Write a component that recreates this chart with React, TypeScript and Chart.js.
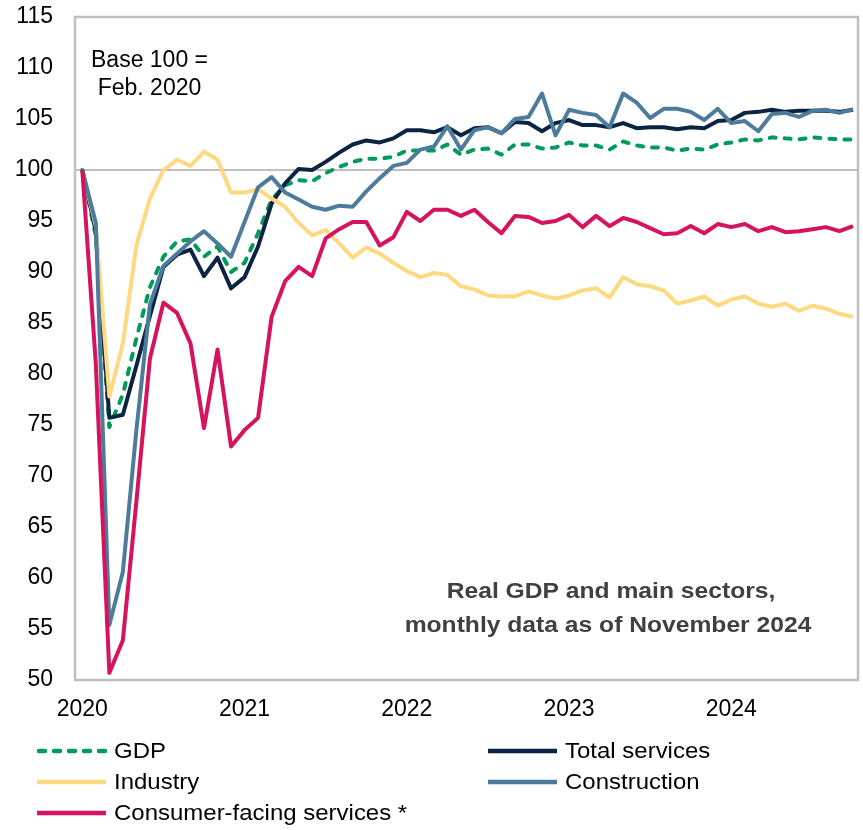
import React, { useEffect, useRef } from 'react';
import { Chart, registerables } from 'chart.js';

Chart.register(...registerables);

// ---------- data (monthly, Feb 2020 = 100, Feb 2020 .. Nov 2024) ----------
const yearLabels = ['2020', '2021', '2022', '2023', '2024'];
const yearTickIndex = [0, 12, 24, 36, 48];

const gdp = [
  100, 93.5, 74.8, 78.0, 83.5, 88.5, 91.5, 93.0, 93.2, 91.5, 92.5, 90.0,
  90.9, 93.8, 97.1, 98.5, 99.0, 98.9, 99.7, 100.3, 100.8, 101.1, 101.1, 101.3,
  101.9, 101.9, 101.9, 102.5, 101.5, 102.0, 102.1, 101.5, 102.5, 102.5, 102.1, 102.2,
  102.7, 102.4, 102.4, 102.0, 102.8, 102.4, 102.2, 102.2, 101.9, 102.1, 102.0, 102.5,
  102.7, 103.0, 102.9, 103.2, 103.1, 103.0, 103.2, 103.1, 103.0, 103.0,
];
const totalServices = [
  100, 94.0, 75.7, 76.0, 80.8, 85.7, 90.5, 91.7, 92.2, 89.6, 91.4, 88.4,
  89.5, 92.5, 96.7, 98.7, 100.1, 100.0, 100.8, 101.7, 102.5, 102.9, 102.7, 103.1,
  103.9, 103.9, 103.7, 104.2, 103.4, 104.1, 104.2, 103.6, 104.7, 104.6, 103.8, 104.6,
  104.9, 104.4, 104.4, 104.2, 104.6, 104.1, 104.2, 104.2, 104.0, 104.2, 104.1, 104.8,
  104.9, 105.6, 105.7, 105.9, 105.7, 105.8, 105.8, 105.8, 105.7, 105.9,
];
const industry = [
  100, 94.5, 77.8, 83.0, 92.6, 97.2, 100.0, 101.0, 100.4, 101.8, 101.0, 97.8,
  97.8, 98.1, 97.2, 96.4, 94.8, 93.6, 94.1, 92.8, 91.4, 92.4, 91.8, 90.9,
  90.1, 89.5, 89.9, 89.7, 88.6, 88.3, 87.7, 87.6, 87.6, 88.1, 87.7, 87.4,
  87.7, 88.2, 88.4, 87.5, 89.5, 88.8, 88.6, 88.2, 86.9, 87.2, 87.6, 86.7,
  87.3, 87.6, 86.9, 86.6, 86.9, 86.2, 86.7, 86.4, 85.9, 85.6,
];
const construction = [
  100, 94.8, 55.4, 60.6, 74.5, 86.8, 90.6, 91.8, 93.0, 94.0, 92.8, 91.5,
  94.9, 98.3, 99.3, 97.8, 97.1, 96.4, 96.1, 96.5, 96.4, 97.9, 99.2, 100.4,
  100.7, 102.0, 102.3, 104.3, 102.0, 103.9, 104.2, 103.6, 105.0, 105.2, 107.5, 103.4,
  105.9, 105.6, 105.4, 104.2, 107.5, 106.6, 105.1, 106.0, 106.0, 105.7, 104.9, 106.0,
  104.6, 104.8, 103.8, 105.5, 105.6, 105.2, 105.8, 105.9, 105.6, 105.95,
];
const consumerFacing = [
  100, 81.0, 50.7, 53.9, 67.5, 81.5, 87.0, 86.0, 83.0, 74.7, 82.4, 72.9,
  74.5, 75.7, 85.6, 89.1, 90.5, 89.6, 93.3, 94.2, 94.9, 94.9, 92.6, 93.4,
  95.9, 95.0, 96.1, 96.1, 95.5, 96.1, 94.9, 93.8, 95.5, 95.4, 94.8, 95.0,
  95.6, 94.4, 95.5, 94.5, 95.3, 94.9, 94.3, 93.7, 93.8, 94.5, 93.8, 94.7,
  94.4, 94.7, 94.0, 94.4, 93.9, 94.0, 94.2, 94.4, 94.0, 94.5,
];

const seriesNames = ['GDP', 'Total services', 'Industry', 'Construction', 'Consumer-facing services *'];
const baseNote = ['Base 100 =', 'Feb. 2020'];
const chartNote = ['Real GDP and main sectors,', 'monthly data as of November 2024'];

// ---------- styles ----------
const COLORS = ['#009B5B', '#0B2444', '#FFD980', '#4C7B9C', '#D5135F'];
const FONT = '"Liberation Sans", Arial, Helvetica, sans-serif';
const GRID_GREY = '#BFBFBF';
const GDP_DASH = [6, 9];

function drawText(ctx: CanvasRenderingContext2D, s: string, x: number, y: number, font: string,
  align: CanvasTextAlign, sx = 1, color = '#000') {
  ctx.save();
  ctx.font = font;
  ctx.fillStyle = color;
  ctx.textAlign = align;
  ctx.textBaseline = 'alphabetic';
  ctx.translate(x, y);
  ctx.scale(sx, 1);
  ctx.fillText(s, 0, 0);
  ctx.restore();
}

const decorPlugin = {
  id: 'decor',
  beforeDatasetsDraw(chart: any) {
    const { ctx, chartArea: a, scales } = chart;
    ctx.save();
    ctx.strokeStyle = GRID_GREY;
    ctx.lineWidth = 2;
    const y100 = scales.y.getPixelForValue(100);
    ctx.beginPath();
    ctx.moveTo(a.left, y100);
    ctx.lineTo(a.right, y100);
    ctx.stroke();
    ctx.lineWidth = 2.5;
    ctx.strokeRect(a.left, a.top, a.right - a.left, a.bottom - a.top);
    ctx.restore();
  },
  afterDraw(chart: any) {
    const ctx: CanvasRenderingContext2D = chart.ctx;
    // base note
    drawText(ctx, baseNote[0], 149.5, 66.5, `23px ${FONT}`, 'center');
    drawText(ctx, baseNote[1], 149.5, 95, `23px ${FONT}`, 'center');
    // chart note
    drawText(ctx, chartNote[0], 611, 598, `bold 22px ${FONT}`, 'center', 1.12, '#404040');
    drawText(ctx, chartNote[1], 608, 632, `bold 22px ${FONT}`, 'center', 1.12, '#404040');
    // legend
    const slots = [
      { x: 37, y: 751 }, { x: 488, y: 751 },
      { x: 37, y: 782 }, { x: 488, y: 782 },
      { x: 37, y: 813 },
    ];
    seriesNames.forEach((name, i) => {
      const s = slots[i];
      ctx.save();
      ctx.strokeStyle = COLORS[i];
      ctx.lineWidth = 4.5;
      if (i === 0) {
        ctx.setLineDash(GDP_DASH);
        ctx.lineCap = 'round';
      } else {
        ctx.lineCap = 'butt';
      }
      ctx.beginPath();
      ctx.moveTo(s.x + (i === 0 ? 2 : 0), s.y);
      ctx.lineTo(s.x + 69, s.y);
      ctx.stroke();
      ctx.restore();
      drawText(ctx, name, s.x + 77, s.y + 7, `22px ${FONT}`, 'left', 1.09, '#000');
    });
  },
};

export default function App() {
  const ref = useRef<HTMLCanvasElement | null>(null);

  useEffect(() => {
    if (!ref.current) return;
    const series = [gdp, totalServices, industry, construction, consumerFacing];
    const chart = new Chart(ref.current, {
      type: 'line',
      data: {
        datasets: series.map((vals, i) => ({
          label: seriesNames[i],
          data: vals.map((v, k) => ({ x: k, y: v })),
          borderColor: COLORS[i],
          backgroundColor: COLORS[i],
          borderWidth: 4,
          borderDash: i === 0 ? GDP_DASH : [],
          borderCapStyle: i === 0 ? 'round' : 'butt',
          borderJoinStyle: 'round',
          pointRadius: 0,
          tension: 0,
          fill: false,
          order: 5 - i,
        })),
      },
      options: {
        responsive: false,
        animation: false,
        devicePixelRatio: 1,
        layout: { padding: { top: 17, right: 5, left: 0, bottom: 0 } },
        plugins: { legend: { display: false }, tooltip: { enabled: false } },
        scales: {
          x: {
            type: 'linear',
            min: -0.54,
            max: 57.37,
            grid: { display: false, drawTicks: false },
            border: { display: false },
            afterBuildTicks: (scale: any) => {
              scale.ticks = yearTickIndex.map((v) => ({ value: v }));
            },
            afterFit: (scale: any) => {
              scale.height = 150;
              scale.paddingLeft = 0;
              scale.paddingRight = 0;
            },
            ticks: {
              autoSkip: false,
              maxRotation: 0,
              padding: 16,
              color: '#000',
              font: { family: FONT, size: 23 },
              callback: (value: any) => {
                const k = yearTickIndex.indexOf(Number(value));
                return k >= 0 ? yearLabels[k] : '';
              },
            },
          },
          y: {
            min: 50,
            max: 115,
            grid: { display: false, drawTicks: false },
            border: { display: false },
            afterFit: (scale: any) => {
              scale.width = 75;
              scale.paddingTop = 0;
              scale.paddingBottom = 0;
            },
            ticks: {
              stepSize: 5,
              padding: 22,
              color: '#000',
              font: { family: FONT, size: 23 },
            },
          },
        },
      },
      plugins: [decorPlugin],
    } as any);
    return () => chart.destroy();
  }, []);

  return (
    <div style={{ position: 'absolute', left: 0, top: 0, width: 863, height: 830, background: '#fff' }}>
      <canvas ref={ref} width={863} height={830} style={{ display: 'block' }} />
    </div>
  );
}
